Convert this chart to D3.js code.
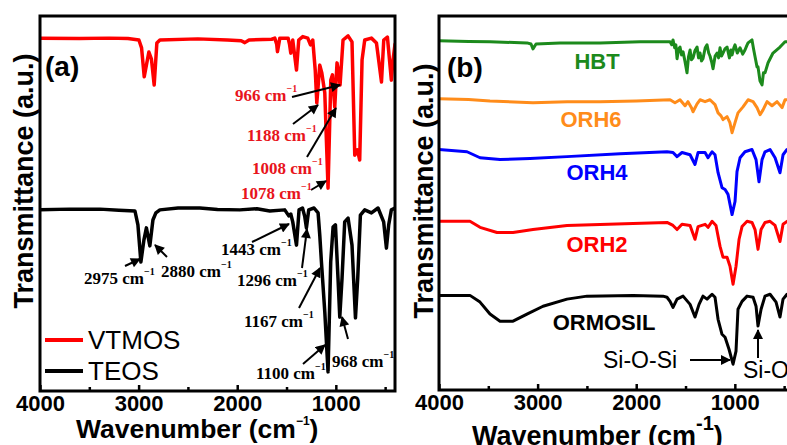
<!DOCTYPE html>
<html>
<head>
<meta charset="utf-8">
<script src="https://cdn.jsdelivr.net/npm/d3@7"></script>
<style>
  body { margin: 0; background: #fff; }
  svg { display: block; }
</style>
</head>
<body>
<script>
var width = 787;
var height = 445;

// wavenumber (cm-1), transmittance (a.u., stacked)
var vtmos = [[4000,94.1],[3600,94.0],[3300,94.1],[3108,94.0],[2997,93.6],[2970,91.5],[2943,83.8],[2896,90.4],
  [2870,88.5],[2842,81.6],[2815,92.8],[2784,93.6],[2400,93.9],[2100,93.6],[1960,93.4],[1923,92.9],[1880,93.6],
  [1650,93.8],[1619,94.1],[1600,92.5],[1592,90.5],[1568,94.1],[1484,94.1],[1470,92.5],[1457,90.1],[1437,93.6],
  [1420,90.0],[1399,85.6],[1376,93.6],[1335,94.5],[1285,94.1],[1257,92.3],[1234,93.6],[1209,85.6],[1193,76.8],
  [1163,86.9],[1142,84.8],[1112,79.5],[1079,54.1],[1051,82.9],[1034,84.3],[1011,75.7],[988,87.5],[971,84.8],
  [957,81.6],[927,93.6],[876,94.7],[836,93.1],[808,62.9],[781,64.3],[758,61.6],[734,88.3],[707,93.6],
  [639,94.1],[588,92.8],[537,82.4],[514,93.6],[477,94.4],[437,82.9],[420,88.3],[400,92.5]];

var teos = [[4000,48.3],[3700,48.5],[3392,48.5],[3200,48.2],[3037,48.0],[3007,44.3],[2977,34.4],[2946,40.3],
  [2921,43.5],[2886,38.7],[2855,45.6],[2825,47.5],[2784,48.3],[2600,48.8],[2379,48.8],[2200,48.4],[1974,48.3],
  [1800,48.6],[1670,48.0],[1518,48.3],[1477,46.7],[1457,47.2],[1437,45.1],[1399,38.9],[1373,48.3],[1338,48.8],
  [1315,46.5],[1298,43.5],[1275,48.3],[1221,48.8],[1180,47.5],[1163,41.6],[1146,34.4],[1112,21.1],[1079,5.1],
  [1052,34.4],[1028,43.7],[1004,44.3],[978,30.1],[960,19.7],[937,30.1],[910,45.1],[876,46.1],[836,38.9],
  [801,19.5],[778,30.1],[751,46.9],[707,48.3],[639,47.5],[572,48.8],[515,45.1],[487,38.1],[464,44.3],
  [437,48.3],[400,48.8]];

var hbt = [[4000,93.4],[3700,93.2],[3483,93.1],[3108,92.8],[3067,92.5],[3047,91.2],[3016,92.5],[2773,92.8],
  [2367,92.8],[1961,93.1],[1678,93.1],[1657,93.1],[1640,92.3],[1627,93.6],[1610,91.5],[1598,92.3],[1586,88.6],
  [1570,91.2],[1556,91.7],[1540,89.6],[1525,90.4],[1505,87.8],[1485,84.8],[1470,89.1],[1454,90.9],[1440,88.3],
  [1424,88.8],[1405,90.7],[1383,91.7],[1368,88.8],[1353,90.1],[1338,88.0],[1323,88.6],[1300,91.5],[1282,92.3],
  [1265,90.1],[1252,89.3],[1235,87.7],[1221,85.9],[1200,89.3],[1180,90.1],[1165,88.8],[1150,91.5],[1135,89.3],
  [1120,90.1],[1100,91.2],[1079,91.7],[1055,88.8],[1040,90.9],[1028,89.6],[1010,91.5],[998,92.3],[975,90.1],
  [947,91.5],[920,89.8],[897,90.9],[880,92.0],[866,92.8],[826,93.6],[810,91.2],[795,89.1],[775,86.4],[765,86.4],
  [745,82.7],[724,81.6],[710,84.8],[694,84.8],[663,87.5],[613,90.1],[542,91.7],[491,93.1],[440,93.1],[400,92.5]];

var orh6 = [[4000,77.9],[3700,77.7],[3483,77.3],[3047,76.8],[2700,77.1],[2367,77.1],[2000,77.3],[1657,77.6],
  [1607,76.8],[1556,77.6],[1505,76.0],[1475,77.1],[1440,75.5],[1424,74.4],[1383,76.5],[1353,77.6],[1302,77.1],
  [1252,77.6],[1201,76.3],[1170,74.1],[1140,73.3],[1120,72.3],[1079,73.1],[1050,71.5],[1028,68.8],[998,71.5],
  [968,74.1],[917,75.7],[866,77.6],[815,77.1],[775,75.5],[744,73.6],[714,74.9],[673,77.1],[623,76.0],
  [572,77.1],[521,75.5],[491,77.6],[400,77.6]];

var orh4 = [[4000,64.3],[3716,63.7],[3584,62.1],[3381,61.6],[3077,61.9],[2702,62.4],[2164,63.2],[1688,63.7],
  [1627,63.5],[1586,62.4],[1536,63.5],[1454,62.9],[1404,60.3],[1373,63.5],[1302,63.5],[1272,62.1],[1231,63.7],
  [1201,62.9],[1170,58.1],[1130,54.1],[1099,53.6],[1069,52.3],[1028,46.9],[998,50.4],[978,58.4],[947,62.1],
  [897,63.7],[826,64.3],[785,61.6],[755,55.7],[724,61.6],[694,63.7],[643,64.3],[592,62.1],[542,58.1],
  [511,62.9],[471,64.3],[400,64.3]];

var orh2 = [[4000,45.1],[3686,45.1],[3584,43.5],[3412,42.1],[3249,42.1],[3047,42.9],[2702,44.0],[2032,44.5],
  [1688,44.8],[1627,44.0],[1586,42.9],[1536,44.3],[1454,44.0],[1404,40.3],[1373,43.7],[1302,44.3],[1272,43.5],
  [1231,45.1],[1191,44.0],[1150,38.4],[1120,35.5],[1079,35.5],[1049,33.1],[1018,28.3],[988,33.1],[957,40.3],
  [927,43.7],[876,45.1],[826,44.8],[795,42.9],[765,37.6],[734,42.9],[694,44.8],[643,45.1],[592,44.0],
  [542,39.7],[511,44.3],[471,45.1],[400,45.1]];

var ormosil = [[4000,25.3],[3686,25.3],[3584,23.5],[3483,20.3],[3381,18.4],[3249,18.4],[3108,20.3],[2945,22.4],
  [2702,24.3],[2499,25.1],[2032,25.3],[1728,25.1],[1688,24.8],[1657,23.7],[1627,22.1],[1586,24.3],[1525,25.1],
  [1454,22.9],[1404,19.5],[1363,22.9],[1323,25.1],[1282,24.3],[1231,25.6],[1201,24.8],[1170,18.9],[1130,14.9],
  [1099,14.1],[1059,10.9],[1018,6.9],[988,10.4],[968,21.6],[927,23.7],[876,25.1],[815,24.8],[785,22.4],
  [765,17.1],[734,21.6],[694,25.1],[643,25.6],[582,23.5],[542,19.5],[511,24.3],[471,25.6],[400,25.6]];

var xTicks = [4000, 3000, 2000, 1000];
var xMinor = [3500, 2500, 1500, 500];

var seriesA = [
  {name: "VTMOS", values: vtmos, color: "#ff0000"},
  {name: "TEOS", values: teos, color: "#000000"}
];
var seriesB = [
  {name: "HBT", values: hbt, color: "#1c8a1c"},
  {name: "ORH6", values: orh6, color: "#ff8c1a"},
  {name: "ORH4", values: orh4, color: "#0000ff"},
  {name: "ORH2", values: orh2, color: "#ff0000"},
  {name: "ORMOSIL", values: ormosil, color: "#000000"}
];

var sans = "'Liberation Sans', Arial, sans-serif";
var serif = "'Liberation Serif', 'Times New Roman', serif";

var svg = d3.select("body")
  .append("svg")
  .attr("width", width)
  .attr("height", height);

svg.append("rect").attr("width", width).attr("height", height).attr("fill", "#fff");

var defs = svg.append("defs");
defs.append("marker")
  .attr("id", "head")
  .attr("viewBox", "0 0 10 10")
  .attr("refX", 9).attr("refY", 5)
  .attr("markerWidth", 5.5).attr("markerHeight", 5)
  .attr("markerUnits", "strokeWidth")
  .attr("orient", "auto")
  .append("path")
  .attr("d", "M0,0 L10,5 L0,10 Z")
  .attr("fill", "#000");

function drawPanel(id, box, series, lineWidth) {
  var x = d3.scaleLinear().domain([4000, 400]).range([box.left, box.right]);
  var y = d3.scaleLinear().domain([0, 100]).range([box.bottom, box.top]);

  defs.append("clipPath").attr("id", "clip-" + id)
    .append("rect")
    .attr("x", box.left).attr("y", box.top)
    .attr("width", box.right - box.left).attr("height", box.bottom - box.top);

  var line = d3.line()
    .x(function(d) { return x(d[0]); })
    .y(function(d) { return y(d[1]); });

  svg.append("g")
    .attr("clip-path", "url(#clip-" + id + ")")
    .selectAll("path")
    .data(series)
    .enter()
    .append("path")
    .attr("d", function(d) { return line(d.values); })
    .attr("fill", "none")
    .attr("stroke", function(d) { return d.color; })
    .attr("stroke-width", lineWidth)
    .attr("stroke-linejoin", "round")
    .attr("stroke-linecap", "round");

  var major = svg.append("g")
    .attr("transform", "translate(0," + box.bottom + ")")
    .call(d3.axisBottom(x).tickValues(xTicks).tickSize(-6).tickPadding(4).tickFormat(d3.format("d")));
  var minor = svg.append("g")
    .attr("transform", "translate(0," + box.bottom + ")")
    .call(d3.axisBottom(x).tickValues(xMinor).tickSize(-4).tickFormat(""));
  [major, minor].forEach(function(g) {
    g.select(".domain").remove();
    g.selectAll("line").attr("stroke", "#000").attr("stroke-width", 2.5);
  });
  major.selectAll("text")
    .attr("font-family", sans)
    .attr("font-weight", "bold")
    .attr("font-size", 22)
    .attr("fill", "#000");

  svg.append("rect")
    .attr("x", box.left).attr("y", box.top)
    .attr("width", box.right - box.left).attr("height", box.bottom - box.top)
    .attr("fill", "none")
    .attr("stroke", "#000")
    .attr("stroke-width", 3);

  return {x: x, y: y};
}

var boxA = {left: 40, right: 395, top: 16, bottom: 391};
var boxB = {left: 439, right: 794, top: 16, bottom: 390};

drawPanel("a", boxA, seriesA, 3.5);
drawPanel("b", boxB, seriesB, 3);

// y axis titles
[{x: 33, y: 181}, {x: 433, y: 191}].forEach(function(p) {
  svg.append("text")
    .attr("transform", "translate(" + p.x + "," + p.y + ") rotate(-90)")
    .attr("text-anchor", "middle")
    .attr("font-family", sans)
    .attr("font-weight", "bold")
    .attr("font-size", 27)
    .text("Transmittance (a.u.)");
});

// x axis titles
var xtA = svg.append("text")
  .attr("x", 76).attr("y", 438)
  .attr("font-family", sans).attr("font-weight", "bold").attr("font-size", 26.5);
xtA.append("tspan").text("Wavenumber (cm");
xtA.append("tspan").attr("font-size", 12).attr("dy", -13).text("\u22121");
xtA.append("tspan").attr("dy", 13).text(")");

var xtB = svg.append("text")
  .attr("x", 472).attr("y", 445)
  .attr("font-family", sans).attr("font-weight", "bold").attr("font-size", 27);
xtB.append("tspan").text("Wavenumber (cm");
xtB.append("tspan").attr("font-size", 20).attr("dy", -15).text("-1");
xtB.append("tspan").attr("dy", 15).text(")");

// panel letters
svg.append("text").attr("x", 45).attr("y", 76)
  .attr("font-family", sans).attr("font-weight", "bold").attr("font-size", 28).text("(a)");
svg.append("text").attr("x", 447).attr("y", 77)
  .attr("font-family", sans).attr("font-weight", "bold").attr("font-size", 28).text("(b)");

// legend, panel (a)
var legend = svg.append("g").selectAll("g")
  .data(seriesA)
  .enter()
  .append("g")
  .attr("transform", function(d, i) { return "translate(45," + (340 + i * 31) + ")"; });
legend.append("line")
  .attr("x1", 0).attr("x2", 38)
  .attr("stroke", function(d) { return d.color; })
  .attr("stroke-width", 4);
legend.append("text")
  .attr("x", 43).attr("y", 9)
  .attr("font-family", sans).attr("font-size", 26)
  .text(function(d) { return d.name; });

// peak annotations, panel (a)
var notes = [
  {t: "966", c: "#e8141c", tx: 235, ty: 101, a: [292, 97, 340, 85]},
  {t: "1188", c: "#e8141c", tx: 247, ty: 141, a: [293, 124, 318, 105]},
  {t: "1008", c: "#e8141c", tx: 252, ty: 174, a: [307, 157, 336, 108]},
  {t: "1078", c: "#e8141c", tx: 241, ty: 199, a: [311, 190, 326, 181]},
  {t: "2975", c: "#000", tx: 84, ty: 284, a: [125, 266, 140, 259]},
  {t: "2880", c: "#000", tx: 161, ty: 277, a: [167, 257, 155, 245]},
  {t: "1443", c: "#000", tx: 221, ty: 255, a: [252, 242, 289, 224]},
  {t: "1296", c: "#000", tx: 237, ty: 286, a: [302, 268, 307, 229]},
  {t: "1167", c: "#000", tx: 244, ty: 327, a: [299, 308, 320, 268]},
  {t: "1100", c: "#000", tx: 256, ty: 379, a: [303, 364, 325, 345]},
  {t: "968", c: "#000", tx: 332, ty: 367, a: [348, 339, 342, 317]}
];

var ann = svg.append("g").selectAll("g").data(notes).enter().append("g");
ann.append("line")
  .attr("x1", function(d) { return d.a[0]; })
  .attr("y1", function(d) { return d.a[1]; })
  .attr("x2", function(d) { return d.a[2]; })
  .attr("y2", function(d) { return d.a[3]; })
  .attr("stroke", "#000")
  .attr("stroke-width", 2)
  .attr("marker-end", "url(#head)");
var annText = ann.append("text")
  .attr("x", function(d) { return d.tx; })
  .attr("y", function(d) { return d.ty; })
  .attr("font-family", serif)
  .attr("font-weight", "bold")
  .attr("font-size", 17)
  .attr("fill", function(d) { return d.c; });
annText.append("tspan").text(function(d) { return d.t + " cm"; });
annText.append("tspan").attr("font-size", 10).attr("dy", -9).text("\u22121");

// sample labels, panel (b)
var sampleLabels = [
  {name: "HBT", x: 597, y: 69},
  {name: "ORH6", x: 591, y: 127},
  {name: "ORH4", x: 597, y: 180},
  {name: "ORH2", x: 597, y: 252},
  {name: "ORMOSIL", x: 604, y: 330}
];
svg.append("g").selectAll("text")
  .data(sampleLabels)
  .enter()
  .append("text")
  .attr("x", function(d) { return d.x; })
  .attr("y", function(d) { return d.y; })
  .attr("text-anchor", "middle")
  .attr("font-family", sans)
  .attr("font-weight", "bold")
  .attr("font-size", 22)
  .attr("fill", function(d, i) { return seriesB[i].color; })
  .text(function(d) { return d.name; });

// bond assignments, panel (b)
svg.append("text").attr("x", 603).attr("y", 368)
  .attr("font-family", sans).attr("font-size", 23).text("Si-O-Si");
svg.append("line").attr("x1", 690).attr("y1", 360).attr("x2", 730).attr("y2", 360)
  .attr("stroke", "#000").attr("stroke-width", 2).attr("marker-end", "url(#head)");
svg.append("text").attr("x", 743).attr("y", 378)
  .attr("font-family", sans).attr("font-size", 23).text("Si-O-Si");
svg.append("line").attr("x1", 758).attr("y1", 358).attr("x2", 758).attr("y2", 330)
  .attr("stroke", "#000").attr("stroke-width", 2).attr("marker-end", "url(#head)");
</script>
</body>
</html>
